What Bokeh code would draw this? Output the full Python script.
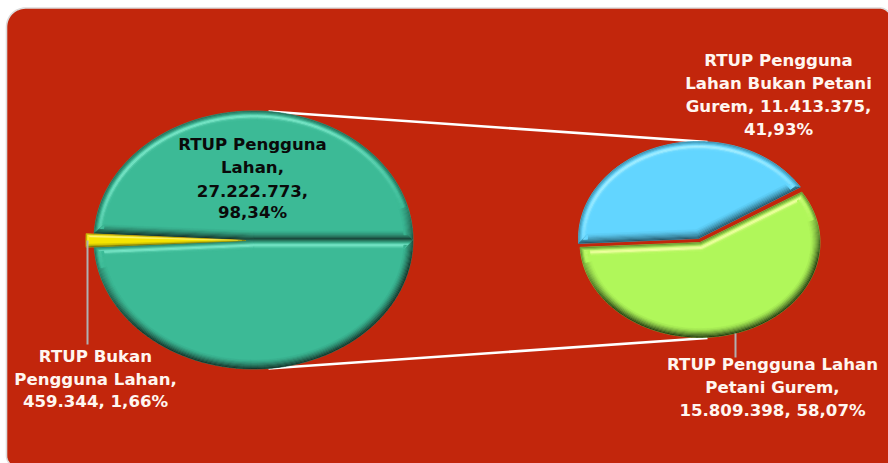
import math
from bokeh.plotting import figure
from bokeh.models import Range1d, ColumnDataSource
from bokeh.core.properties import value
from bokeh.embed import file_html
from bokeh.resources import INLINE

W, H = 888, 463

# ---- data ----
main_categories = ["RTUP Pengguna Lahan", "RTUP Bukan Pengguna Lahan"]
main_values = [27222773, 459344]
sub_categories = ["RTUP Pengguna Lahan Bukan Petani Gurem", "RTUP Pengguna Lahan Petani Gurem"]
sub_values = [11413375, 15809398]

label_lines = [
    "RTUP Pengguna", "Lahan,", "27.222.773,", "98,34%",
    "RTUP Bukan", "Pengguna Lahan,", "459.344, 1,66%",
    "RTUP Pengguna", "Lahan Bukan Petani", "Gurem, 11.413.375,", "41,93%",
    "RTUP Pengguna Lahan", "Petani Gurem,", "15.809.398, 58,07%",
]
label_x = [252, 252, 252, 252, 95, 95, 95, 778, 778, 778, 778, 772, 772, 772]
label_y = [144, 167, 190, 212, 356, 379, 401, 60, 83, 106, 129, 364, 387, 410]
label_color = ["#0a0a0a"] * 4 + ["#fff6f0"] * 10

RED = "#C2260C"


def mix(a, b, t):
    t = max(0.0, min(1.0, t))
    ca = [int(a[i:i + 2], 16) for i in (1, 3, 5)]
    cb = [int(b[i:i + 2], 16) for i in (1, 3, 5)]
    return "#%02x%02x%02x" % tuple(round(x + (y - x) * t) for x, y in zip(ca, cb))


def sector(cx, cy, rx, ry, a0, a1):
    n = max(6, int(abs(a1 - a0) / 2.5))
    pts = [(cx, cy)]
    for i in range(n + 1):
        a = math.radians(a0 + (a1 - a0) * i / n)
        pts.append((cx + rx * math.cos(a), cy - ry * math.sin(a)))
    return pts


def outward_normals(pts):
    out = []
    n = len(pts)
    for i in range(n):
        x0, y0 = pts[i]
        x1, y1 = pts[(i + 1) % n]
        dx, dy = x1 - x0, y1 - y0
        L = math.hypot(dx, dy) or 1
        out.append((-dy / L, dx / L))
    return out


def offset(pts, normals, d):
    res = []
    n = len(pts)
    for i in range(n):
        a = normals[i - 1]
        b = normals[i]
        mx, my = a[0] + b[0], a[1] + b[1]
        L = math.hypot(mx, my) or 1
        mx, my = mx / L, my / L
        c = mx * b[0] + my * b[1]
        k = d / max(c, 0.25)
        res.append((pts[i][0] - mx * k, pts[i][1] - my * k))
    return res


def bevel(p, pts, fill, light, dark, depth=8.0, bands=8):
    normals = outward_normals(pts)
    p.patch([q[0] for q in pts], [q[1] for q in pts], fill_color=fill, line_color=fill, line_width=0.5)
    xs, ys, cols = [], [], []
    n = len(pts)
    lx, ly = -0.30, -0.95
    for b in range(bands):
        t = b / bands
        o = offset(pts, normals, depth * t)
        q = offset(pts, normals, depth * (t + 1 / bands))
        for i in range(n):
            j = (i + 1) % n
            lit = normals[i][0] * lx + normals[i][1] * ly
            if lit > 0:
                bump = math.exp(-((t - 0.55) / 0.2) ** 2)
                c = mix(fill, light, bump * min(1, lit * 1.2))
                if t < 0.35:
                    c = mix(c, dark, (0.35 - t) * 1.5)
            else:
                c = mix(fill, dark, (1 - t) ** 1.3 * min(1, 0.45 - lit))
            xs.append([o[i][0], o[j][0], q[j][0], q[i][0]])
            ys.append([o[i][1], o[j][1], q[j][1], q[i][1]])
            cols.append(c)
    p.patches(xs, ys, fill_color=cols, line_color=cols, line_width=0.4)


p = figure(width=W, height=H, x_range=Range1d(0, W), y_range=Range1d(H, 0),
           output_backend="svg", toolbar_location=None, min_border=0,
           background_fill_color="#ffffff", border_fill_color="#ffffff",
           outline_line_color=None)
p.axis.visible = False
p.grid.visible = False


def arc(cx, cy, r, a0, a1):
    s = 6 if a1 > a0 else -6
    return [(cx + r * math.cos(math.radians(a)), cy + r * math.sin(math.radians(a))) for a in range(a0, a1 + s, s)]


# frame: rounded panel running off the right and bottom of the picture
fx0, fy0, fy1, fx1 = 6.0, 7.5, 467.0, 891.0
frame = (arc(fx0 + 12, fy1 - 12, 12, 90, 180) + arc(fx0 + 19, fy0 + 19, 19, 180, 270)
         + arc(fx1 - 12, fy0 + 12, 12, 270, 360) + [(fx1, fy1)])
p.patch([q[0] for q in frame], [q[1] for q in frame], fill_color=RED, line_color="#dcdcdc", line_width=1.6)

# connector lines
p.line([268, 707], [111, 141.5], line_color="#ffffff", line_width=2.6)
p.line([268, 707], [368, 337.5], line_color="#ffffff", line_width=2.6)

# main pie
main_total = sum(main_values)
main_small = main_values[1] / main_total * 360
CX, CY, RX, RY = 253.0, 239.5, 159.5, 129.0
GREEN, GL, GD = "#3CBA96", "#7ce8ca", "#16352b"
bevel(p, sector(CX, CY, RX, RY, 0, 180 - main_small / 2), GREEN, GL, GD, depth=9)
bevel(p, sector(CX, CY, RX, RY, 180 + main_small / 2, 360), GREEN, GL, GD, depth=9)
bevel(p, sector(CX - 8, CY + 0.5, RX, RY, 180 - main_small / 2, 180 + main_small / 2),
      "#F5E400", "#fff9a0", "#6d6a10", depth=3, bands=3)

# second pie
sub_total = sum(sub_values)
blue_span = sub_values[0] / sub_total * 360
A0 = 32.0
bevel(p, sector(698, 238, 120, 97, A0, A0 + blue_span), "#62D5FF", "#a6efff", "#26596b", depth=9)
bevel(p, sector(699.5, 242, 120, 95, A0 + blue_span, A0 + 360), "#B0F75A", "#f4ffa6", "#263f14", depth=9)

# leader lines
p.line([87, 87], [240, 344], line_color="#b0b0b0", line_width=2)
p.line([735, 735], [333, 357], line_color="#b0b0b0", line_width=2)

# labels
src = ColumnDataSource(dict(x=label_x, y=label_y, t=label_lines, c=label_color))
p.text("x", "y", text="t", source=src, text_color="c", text_align="center", text_baseline="middle",
       text_font=value("DejaVu Sans"), text_font_style="bold", text_font_size="16.6px")

open("out.html", "w").write(file_html(p, INLINE))
